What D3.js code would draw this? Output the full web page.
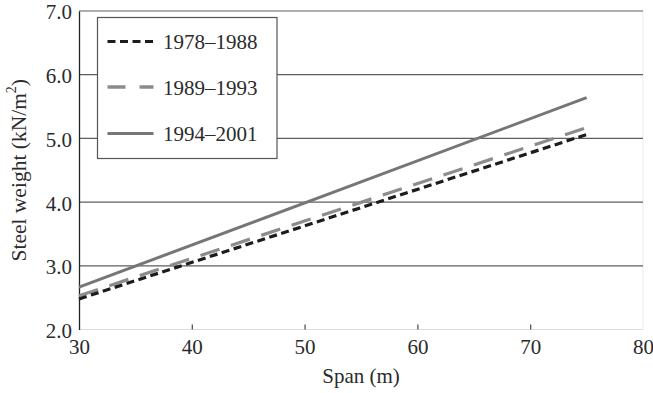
<!DOCTYPE html>
<html>
<head>
<meta charset="utf-8">
<script src="https://cdn.jsdelivr.net/npm/d3@7"></script>
<style>
  html, body { margin: 0; padding: 0; background: #fff; }
  svg { display: block; }
  text { font-family: "Liberation Serif", "Times New Roman", serif; fill: #2b2b2b; }
</style>
</head>
<body>
<script>
// ---- Data ----
const spans = [30, 75];
const s1978 = [2.48, 5.06];
const s1989 = [2.53, 5.17];
const s1994 = [2.665, 5.64];
const seriesNames = ["1978\u20131988", "1989\u20131993", "1994\u20132001"];
const xTicks = [30, 40, 50, 60, 70, 80];
const yTicks = [2.0, 3.0, 4.0, 5.0, 6.0, 7.0];

const W = 653, H = 393;
const margin = { left: 79, right: 10, top: 11, bottom: 63.5 };

const svg = d3.select("body").append("svg").attr("width", W).attr("height", H);

const x = d3.scaleLinear().domain([30, 80]).range([margin.left, W - margin.right]);
const y = d3.scaleLinear().domain([2, 7]).range([H - margin.bottom, margin.top]);

// Frame: right edge faint, bottom axis light
svg.append("line")
  .attr("x1", x(80)).attr("x2", x(80)).attr("y1", y(7)).attr("y2", y(2))
  .attr("stroke", "#ececec").attr("stroke-width", 1);
svg.append("line")
  .attr("x1", x(30)).attr("x2", x(80)).attr("y1", y(2)).attr("y2", y(2))
  .attr("stroke", "#dcdcdc").attr("stroke-width", 1);

// Gridlines
svg.append("g").selectAll("line").data(yTicks.filter(d => d > 2)).join("line")
  .attr("x1", x(30)).attr("x2", x(80))
  .attr("y1", d => y(d)).attr("y2", d => y(d))
  .attr("stroke", "#5e5e5e").attr("stroke-width", 1.2);

// X axis (ticks pointing inward)
const xAxis = d3.axisBottom(x).tickValues(xTicks).tickSize(-5).tickPadding(12.5)
  .tickFormat(d3.format("d"));
const gx = svg.append("g").attr("transform", `translate(0,${y(2)})`).call(xAxis);
gx.select(".domain").remove();
gx.selectAll(".tick line").attr("stroke", d => (d === 30 || d === 80) ? "none" : "#444").attr("stroke-width", 1.2);
gx.selectAll(".tick text").attr("font-size", 21).attr("fill", "#2b2b2b")
  .attr("font-family", "Liberation Serif, serif").attr("dy", "0.55em");

// Y axis
const yAxis = d3.axisLeft(y).tickValues(yTicks).tickSize(0).tickPadding(7)
  .tickFormat(d3.format(".1f"));
const gy = svg.append("g").attr("transform", `translate(${x(30)},0)`).call(yAxis);
gy.select(".domain").attr("stroke", "#222").attr("stroke-width", 1.3);
gy.selectAll(".tick text").attr("font-size", 21).attr("fill", "#2b2b2b")
  .attr("font-family", "Liberation Serif, serif").attr("dy", "0.38em");

// Lines
const line = d3.line().x(d => x(d[0])).y(d => y(d[1]));
const styles = [
  { data: s1989, color: "#8c8c8c", width: 3.2, dash: "20,12" },
  { data: s1978, color: "#1c1c1c", width: 3.2, dash: "8,4.5" },
  { data: s1994, color: "#767676", width: 3, dash: null }
];
styles.forEach(s => {
  svg.append("path")
    .datum(spans.map((v, i) => [v, s.data[i]]))
    .attr("d", line)
    .attr("fill", "none")
    .attr("stroke", s.color)
    .attr("stroke-width", s.width)
    .attr("stroke-dasharray", s.dash);
});

// Legend
const lg = svg.append("g");
lg.append("rect").attr("x", 97.5).attr("y", 17.5).attr("width", 179.5).attr("height", 141)
  .attr("fill", "#fff").attr("stroke", "#555").attr("stroke-width", 1.2);
const legendStyles = [
  { color: "#1c1c1c", dash: "8,4.5", width: 3.2 },
  { color: "#8c8c8c", dash: "18,14", width: 3.4 },
  { color: "#767676", dash: null, width: 3.2 }
];
const rowY = [41.5, 87, 133.5];
seriesNames.forEach((name, i) => {
  lg.append("line").attr("x1", 107.5).attr("x2", 153.5)
    .attr("y1", rowY[i]).attr("y2", rowY[i])
    .attr("stroke", legendStyles[i].color)
    .attr("stroke-width", legendStyles[i].width)
    .attr("stroke-dasharray", legendStyles[i].dash);
  lg.append("text").attr("x", 163).attr("y", rowY[i] + 7.5)
    .attr("font-size", 21).text(name);
});

// Axis titles
svg.append("text").attr("x", (x(30) + x(80)) / 2).attr("y", 383)
  .attr("text-anchor", "middle").attr("font-size", 21).text("Span (m)");

const yl = svg.append("text")
  .attr("transform", `translate(26,${(y(2) + y(7)) / 2}) rotate(-90)`)
  .attr("text-anchor", "middle").attr("font-size", 21.5);
yl.append("tspan").text("Steel weight (kN/m");
yl.append("tspan").attr("font-size", 14).attr("dy", "-0.7em").text("2");
yl.append("tspan").attr("dy", "0.45em").text(")");
</script>
</body>
</html>
